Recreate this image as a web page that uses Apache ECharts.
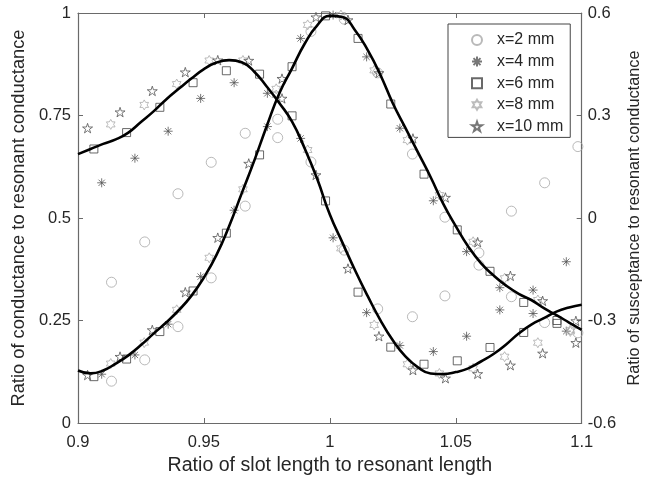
<!DOCTYPE html>
<html>
<head>
<meta charset="utf-8">
<script src="https://cdn.jsdelivr.net/npm/echarts@6/dist/echarts.min.js"></script>
<style>html,body{margin:0;padding:0;background:#fff;}#c{width:651px;height:481px;}</style>
</head>
<body>
<div id="c"></div>
<script>
// ---- fitted curves ----
const curveX = [0.900,0.905,0.910,0.915,0.920,0.925,0.930,0.935,0.940,0.945,0.950,0.955,0.960,0.965,0.970,0.975,0.980,0.985,0.990,0.995,1.000,1.005,1.010,1.015,1.020,1.025,1.030,1.035,1.040,1.045,1.050,1.055,1.060,1.065,1.070,1.075,1.080,1.085,1.090,1.095,1.100];
const gCurve = [0.128,0.121,0.128,0.145,0.165,0.190,0.218,0.245,0.275,0.310,0.355,0.410,0.480,0.560,0.640,0.725,0.805,0.865,0.925,0.970,0.993,0.990,0.958,0.910,0.850,0.780,0.720,0.660,0.600,0.535,0.480,0.430,0.390,0.360,0.335,0.315,0.300,0.280,0.263,0.245,0.227];
const bCurve = [0.187,0.202,0.217,0.230,0.250,0.281,0.312,0.347,0.378,0.408,0.436,0.455,0.462,0.456,0.428,0.384,0.336,0.282,0.204,0.114,0.010,-0.072,-0.153,-0.228,-0.298,-0.358,-0.405,-0.437,-0.455,-0.457,-0.451,-0.440,-0.420,-0.398,-0.370,-0.338,-0.312,-0.293,-0.274,-0.262,-0.254];

// ---- x = 2 mm (circles) ----
const c2X = [0.9133,0.9265,0.9397,0.9529,0.9664,0.9793,0.9925,1.0057,1.0190,1.0328,1.0457,1.0592,1.0721,1.0853,1.0985];
const c2G = [0.102,0.154,0.235,0.354,0.529,0.696,0.955,0.985,0.854,0.656,0.502,0.385,0.308,0.245,0.220];
const c2B = [-0.188,-0.070,0.071,0.163,0.248,0.289,0.164,-0.094,-0.266,-0.289,-0.228,-0.102,0.020,0.103,0.209];
// ---- x = 4 mm (asterisks) ----
const a4X = [0.9094,0.9226,0.9358,0.9487,0.9620,0.9752,0.9884,1.0013,1.0146,1.0278,1.0411,1.0543,1.0675,1.0807,1.0939];
const a4G = [0.119,0.166,0.241,0.357,0.519,0.723,0.938,0.995,0.893,0.719,0.542,0.418,0.330,0.267,0.224];
const a4B = [0.103,0.175,0.254,0.350,0.396,0.365,0.233,-0.058,-0.277,-0.373,-0.391,-0.346,-0.269,-0.211,-0.128];
// ---- x = 6 mm (squares) ----
const s6X = [0.9063,0.9193,0.9325,0.9457,0.9589,0.9721,0.9850,0.9983,1.0112,1.0242,1.0374,1.0506,1.0636,1.0770,1.0902];
const s6G = [0.113,0.156,0.223,0.322,0.463,0.654,0.869,0.993,0.938,0.778,0.607,0.471,0.370,0.294,0.243];
const s6B = [0.202,0.250,0.324,0.396,0.431,0.421,0.299,0.050,-0.217,-0.378,-0.428,-0.418,-0.379,-0.335,-0.300];
// ---- x = 8 mm (hexagrams) ----
const h8X = [0.9130,0.9263,0.9392,0.9521,0.9655,0.9787,0.9912,1.0044,1.0176,1.0308,1.0435,1.0569,1.0694,1.0826,1.0955];
const h8G = [0.145,0.196,0.276,0.403,0.570,0.800,0.971,0.995,0.860,0.690,0.556,0.442,0.353,0.300,0.227];
const h8B = [0.274,0.331,0.392,0.461,0.461,0.378,0.199,-0.089,-0.313,-0.428,-0.455,-0.440,-0.406,-0.365,-0.332];
// ---- x = 10 mm (pentagrams) ----
const p10X = [0.9038,0.9167,0.9295,0.9426,0.9555,0.9678,0.9810,0.9945,1.0072,1.0195,1.0330,1.0459,1.0587,1.0717,1.0845,1.0977];
const p10G = [0.117,0.162,0.227,0.319,0.452,0.633,0.840,0.990,0.983,0.854,0.694,0.550,0.441,0.359,0.298,0.249];
const p10B = [0.263,0.310,0.372,0.427,0.462,0.461,0.350,0.126,-0.148,-0.346,-0.445,-0.469,-0.456,-0.431,-0.396,-0.365];

const legendNames = ['x=2 mm','x=4 mm','x=6 mm','x=8 mm','x=10 mm'];
const xTicks = {min: 0.9, max: 1.1, interval: 0.05};
const yLeftTicks = {min: 0, max: 1, interval: 0.25};
const yRightTicks = {min: -0.6, max: 0.6, interval: 0.3};

const FONT = 'Liberation Sans, Arial, sans-serif';
const zip = (xs, ys) => xs.map((x, i) => [x, ys[i]]);

const STAR5 = 'path://M0,-1L0.2245,-0.309L0.951,-0.309L0.363,0.118L0.588,0.809L0,0.382L-0.588,0.809L-0.363,0.118L-0.951,-0.309L-0.2245,-0.309Z';
const STAR6 = 'path://M0,-1L0.2887,-0.5L0.866,-0.5L0.577,0L0.866,0.5L0.2887,0.5L0,1L-0.2887,0.5L-0.866,0.5L-0.577,0L-0.866,-0.5L-0.2887,-0.5Z';
const ASTER = 'path://M0,-1L0,1M-1,0L1,0M-0.7,-0.7L0.7,0.7M-0.7,0.7L0.7,-0.7';

const markerDefs = [
  {name: legendNames[0], x: c2X, g: c2G, b: c2B, symbol: 'circle', size: 10, color: '#a8a8a8'},
  {name: legendNames[1], x: a4X, g: a4G, b: a4B, symbol: ASTER, size: 9, color: '#555555'},
  {name: legendNames[2], x: s6X, g: s6G, b: s6B, symbol: 'rect', size: 8, color: '#444444'},
  {name: legendNames[3], x: h8X, g: h8G, b: h8B, symbol: STAR6, size: 10, color: '#ababab'},
  {name: legendNames[4], x: p10X, g: p10G, b: p10B, symbol: STAR5, size: 10, color: '#555555'}
];

const series = [];
markerDefs.forEach(d => {
  [['g', 0], ['b', 1]].forEach(([k, yi]) => {
    series.push({
      type: 'scatter', name: d.name, yAxisIndex: yi, xAxisIndex: 0,
      data: zip(d.x, d[k]), symbol: d.symbol, symbolSize: d.size, symbolKeepAspect: true,
      itemStyle: {color: 'rgba(255,255,255,0)', borderColor: d.color, borderWidth: 1},
      z: 2, silent: true
    });
  });
});
series.push({type: 'line', name: 'G fit', data: zip(curveX, gCurve), yAxisIndex: 0, smooth: true, showSymbol: false,
  lineStyle: {color: '#000', width: 2.6}, z: 5, silent: true});
series.push({type: 'line', name: 'B fit', data: zip(curveX, bCurve), yAxisIndex: 1, smooth: true, showSymbol: false,
  lineStyle: {color: '#000', width: 2.6}, z: 5, silent: true});

const axisLineStyle = {onZero: false, lineStyle: {color: '#6a6a6a', width: 1.2}};
const tickStyle = {show: true, inside: true, length: 5, lineStyle: {color: '#6a6a6a'}};
const labelStyle = {color: '#262626', fontSize: 16.5, fontFamily: FONT};

const chart = echarts.init(document.getElementById('c'), null, {renderer: 'canvas'});
chart.setOption({
  animation: false,
  backgroundColor: '#fff',
  grid: {left: 78, right: 68, top: 13, bottom: 58, containLabel: false},
  legend: {
    data: legendNames, orient: 'vertical', left: 448, top: 24,
    itemWidth: 10, itemHeight: 10, itemGap: 5.6,
    padding: [8, 7, 3, 23],
    borderColor: '#444', borderWidth: 1, backgroundColor: '#fff',
    textStyle: {color: '#262626', fontSize: 16, fontFamily: FONT, padding: [0, 0, 0, 10], lineHeight: 15},
    selectedMode: false
  },
  xAxis: [{
    type: 'value', position: 'bottom', min: xTicks.min, max: xTicks.max, interval: xTicks.interval,
    name: 'Ratio of slot length to resonant length', nameLocation: 'middle', nameGap: 33,
    nameTextStyle: {color: '#262626', fontSize: 19.6, fontFamily: FONT},
    axisLine: axisLineStyle, axisTick: tickStyle,
    axisLabel: Object.assign({margin: 11}, labelStyle), splitLine: {show: false}
  }, {
    type: 'value', position: 'top', min: xTicks.min, max: xTicks.max, interval: xTicks.interval,
    axisLine: axisLineStyle, axisTick: tickStyle,
    axisLabel: {show: false}, splitLine: {show: false}
  }],
  yAxis: [{
    type: 'value', position: 'left', min: yLeftTicks.min, max: yLeftTicks.max, interval: yLeftTicks.interval,
    name: 'Ratio of conductance to resonant conductance', nameLocation: 'middle', nameGap: 50, nameRotate: 90,
    nameTextStyle: {color: '#262626', fontSize: 18.3, fontFamily: FONT},
    axisLine: Object.assign({show: true}, axisLineStyle), axisTick: tickStyle,
    axisLabel: Object.assign({margin: 7}, labelStyle), splitLine: {show: false}
  }, {
    type: 'value', position: 'right', min: yRightTicks.min, max: yRightTicks.max, interval: yRightTicks.interval,
    name: 'Ratio of susceptance to resonant conductance', nameLocation: 'middle', nameGap: 39, nameRotate: 90,
    nameTextStyle: {color: '#262626', fontSize: 16.3, fontFamily: FONT},
    axisLine: Object.assign({show: true}, axisLineStyle), axisTick: tickStyle,
    axisLabel: Object.assign({margin: 6}, labelStyle), splitLine: {show: false}
  }],
  series: series
});
</script>
</body>
</html>
